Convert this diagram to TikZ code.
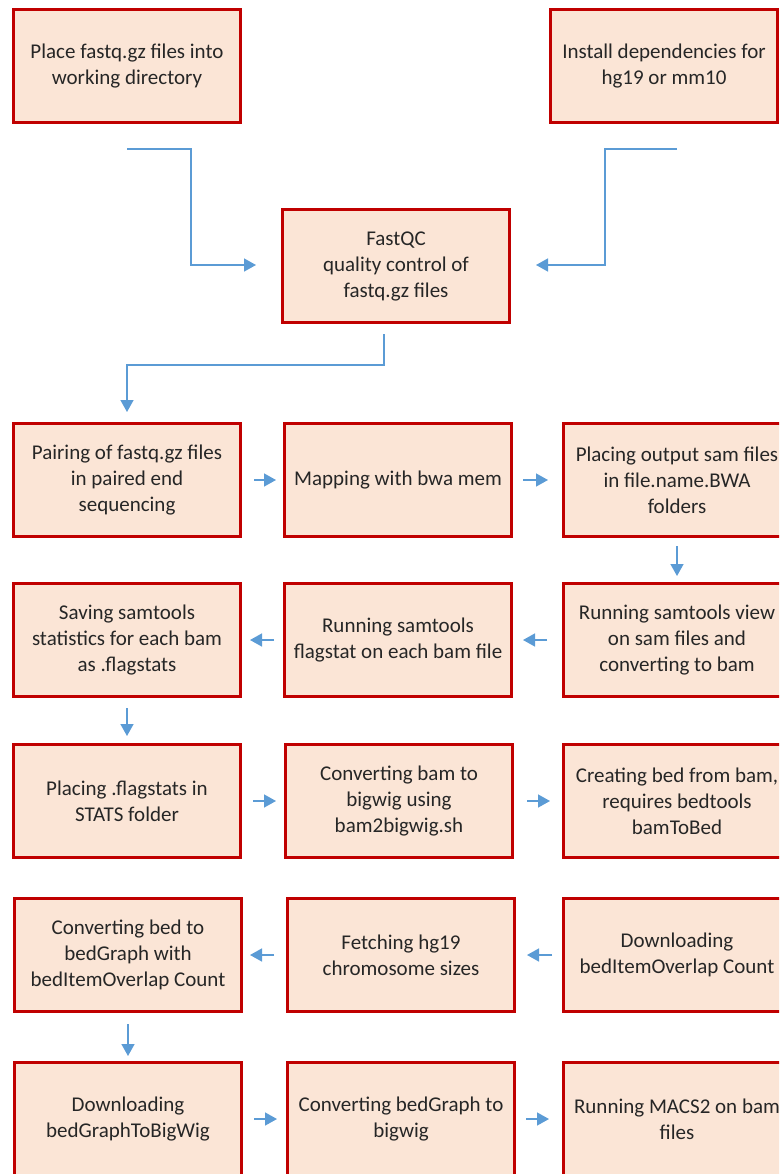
\documentclass[tikz,border=0pt]{standalone}
\usepackage{fontspec}
\setmainfont{Carlito}
\usetikzlibrary{arrows.meta}
\definecolor{boxfill}{HTML}{FBE5D6}
\definecolor{boxline}{HTML}{C00000}
\definecolor{arrblue}{HTML}{5B9BD5}
\definecolor{txt}{HTML}{262626}
\tikzset{
 stepbox/.style={draw=boxline, fill=boxfill, line width=3pt, minimum width=227pt, minimum height=113pt, inner sep=0pt, align=center, text=txt, font=\fontsize{21}{26}\selectfont},
 flow/.style={draw=arrblue, line width=1.5pt, -{Triangle[length=12pt,width=13pt]}},
}
\begin{document}
\begin{tikzpicture}[x=1pt,y=-1pt]
\useasboundingbox (0,0) rectangle (779,1174);
\clip (0,0) rectangle (779,1174);
\node[stepbox] (place) at (127,66) {Place fastq.gz files into\\working directory};
\node[stepbox] (install) at (664,66) {Install dependencies for\\hg19 or mm10};
\node[stepbox] (fastqc) at (396,266) {FastQC\\quality control of\\fastq.gz files};

\node[stepbox] (pair) at (127,480) {Pairing of fastq.gz files\\in paired end\\sequencing};
\node[stepbox] (map) at (398,480) {Mapping with bwa mem};
\node[stepbox] (placeout) at (677,480) {Placing output sam files\\in file.name.BWA\\folders};

\node[stepbox] (view) at (677,640) {Running samtools view\\on sam files and\\converting to bam};
\node[stepbox] (flagstat) at (398,640) {Running samtools\\flagstat on each bam file};
\node[stepbox] (saving) at (127,640) {Saving samtools\\statistics for each bam\\as .flagstats};

\node[stepbox] (placing) at (127,801) {Placing .flagstats in\\STATS folder};
\node[stepbox] (convbw) at (399,801) {Converting bam to\\bigwig using\\bam2bigwig.sh};
\node[stepbox] (bed) at (677,801) {Creating bed from bam,\\requires bedtools\\bamToBed};

\node[stepbox] (bg) at (128,955) {Converting bed to\\bedGraph with\\bedItemOverlap Count};
\node[stepbox] (fetch) at (401,955) {Fetching hg19\\chromosome sizes};
\node[stepbox] (dlov) at (677,955) {Downloading\\bedItemOverlap Count};

\node[stepbox] (dlbg) at (128,1119) {Downloading\\bedGraphToBigWig};
\node[stepbox] (convbg) at (401,1119) {Converting bedGraph to\\bigwig};
\node[stepbox] (macs) at (677,1119) {Running MACS2 on bam\\files};

\coordinate (s1) at ([yshift=-25pt]place.south);
\coordinate (s2) at ([xshift=13pt,yshift=-25pt]install.south);
\draw[flow] (s1) -- ++(64,0) |- ([xshift=-25pt,yshift=1pt]fastqc.west);
\draw[flow] (s2) -- ++(-72,0) |- ([xshift=25pt,yshift=1pt]fastqc.east);
\draw[flow] ([xshift=-12pt,yshift=-10pt]fastqc.south) -- ++(0,31) -| ([yshift=10pt]pair.north);

\draw[flow, shorten <=12pt, shorten >=7pt] (pair.east) -- (map.west);
\draw[flow, shorten <=10pt, shorten >=14pt] (map.east) -- (placeout.west);
\draw[flow, shorten <=8pt, shorten >=6pt] (placeout.south) -- (view.north);
\draw[flow, shorten <=15pt, shorten >=10pt] (view.west) -- (flagstat.east);
\draw[flow, shorten <=9pt, shorten >=8pt] (flagstat.west) -- (saving.east);
\draw[flow, shorten <=10pt, shorten >=7pt] (saving.south) -- (placing.north);
\draw[flow, shorten <=11pt, shorten >=8pt] (placing.east) -- (convbw.west);
\draw[flow, shorten <=13pt, shorten >=12pt] (convbw.east) -- (bed.west);
\draw[flow, shorten <=10pt, shorten >=11pt] (dlov.west) -- (fetch.east);
\draw[flow, shorten <=12pt, shorten >=7pt] (fetch.west) -- (bg.east);
\draw[flow, shorten <=11pt, shorten >=5pt] (bg.south) -- (dlbg.north);
\draw[flow, shorten <=11pt, shorten >=9pt] (dlbg.east) -- (convbg.west);
\draw[flow, shorten <=10pt, shorten >=13pt] (convbg.east) -- (macs.west);
\end{tikzpicture}
\end{document}
